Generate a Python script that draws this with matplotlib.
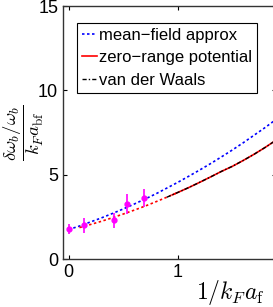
import matplotlib
matplotlib.use("Agg")
import matplotlib.pyplot as plt
import numpy as np

plt.rcParams['font.family'] = ['Liberation Sans', 'DejaVu Sans']
plt.rcParams['mathtext.fontset'] = 'cm'

# measured points
x_data = [0.0, 0.145, 0.417, 0.534, 0.69]
y_data = [1.76, 2.0, 2.31, 3.26, 3.63]
y_err = [0.3, 0.45, 0.45, 0.6, 0.55]

# mean-field curve
x_mf = [0.0, 0.1, 0.2, 0.3, 0.4, 0.5, 0.6, 0.7, 0.8, 0.9, 1.0,
        1.1, 1.2, 1.3, 1.4, 1.5, 1.6, 1.7, 1.8, 1.9]
y_mf = [1.75, 1.96, 2.20, 2.44, 2.70, 2.97, 3.26, 3.56, 3.87, 4.21, 4.55,
        4.91, 5.28, 5.66, 6.06, 6.47, 6.90, 7.35, 7.80, 8.28]

# zero-range potential: dotted part then solid part
x_zr1 = [0.1, 0.2, 0.3, 0.4, 0.5, 0.6, 0.7, 0.8, 0.9, 1.0]
y_zr1 = [1.87, 2.05, 2.24, 2.45, 2.67, 2.90, 3.14, 3.40, 3.67, 3.95]
x_zr2 = [0.95, 1.0, 1.1, 1.2, 1.3, 1.4, 1.5, 1.6, 1.7, 1.8, 1.9]
y_zr2 = [3.81, 3.95, 4.24, 4.55, 4.87, 5.20, 5.50, 5.85, 6.22, 6.62, 7.05]

# van der Waals
x_vdw = [0.9, 1.0, 1.1, 1.2, 1.3, 1.4, 1.5, 1.6, 1.7, 1.8, 1.9]
y_vdw = [3.67, 3.95, 4.24, 4.55, 4.87, 5.20, 5.50, 5.85, 6.22, 6.62, 7.05]

fig = plt.figure(figsize=(2.73, 3.07), dpi=100)
ax = fig.add_axes([0.231, 0.156, 0.78, 0.824])

ax.plot(x_mf, y_mf, color='blue', ls=(0, (1.5, 1.5)), lw=1.2, label='mean\u2212field approx')
ax.plot(x_zr1, y_zr1, color='red', ls=(0, (1.5, 1.5)), lw=1.2)
ax.plot(x_zr2, y_zr2, color='red', ls='-', lw=1.2, label='zero\u2212range potential')
ax.plot(x_vdw, y_vdw, color='black', ls=(0, (3, 1.5, 1, 1.5)), lw=1.0, label='van der Waals')
ax.errorbar(x_data, y_data, yerr=y_err, fmt='o', color='magenta', ms=3.5,
            elinewidth=1.2, capsize=0, zorder=5)

ax.set_xlim(-0.05, 1.9)
ax.set_ylim(0, 15)
ax.set_xticks([0, 1])
ax.set_yticks([0, 5, 10, 15])
ax.tick_params(direction='in', top=True, right=True, labelsize=13, length=3, width=0.8)
for s in ax.spines.values():
    s.set_linewidth(1.0)
    s.set_color('#333333')

ax.set_ylabel(r'$\dfrac{\delta\omega_b/\omega_b}{k_F a_{\rm bf}}$', fontsize=13.5)
ax.yaxis.set_label_coords(-0.082, 0.5)
ax.set_xlabel(r'$1/k_F a_{\rm f}$', fontsize=17)
ax.xaxis.set_label_coords(0.785, -0.075)

leg = ax.legend(loc='upper left', bbox_to_anchor=(0.025, 0.968), fontsize=12,
                handlelength=0.9, handletextpad=0.15, borderpad=0.3,
                labelspacing=0.45, fancybox=False, framealpha=1)
leg.get_frame().set_edgecolor('black')
leg.get_frame().set_linewidth(0.8)

fig.savefig('out.png', dpi=100)
